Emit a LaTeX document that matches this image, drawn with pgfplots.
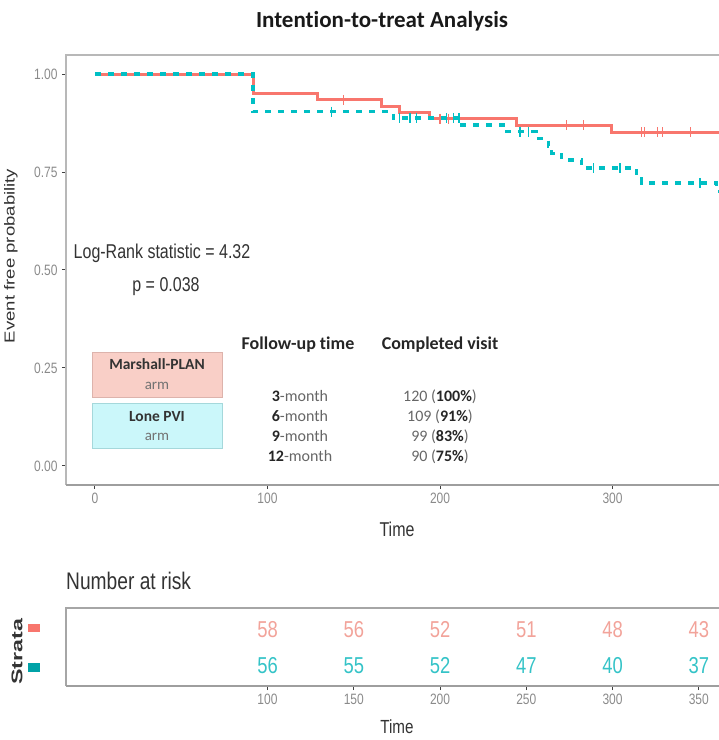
\documentclass[border=0pt]{standalone}
\usepackage{pgfplots}
\pgfplotsset{compat=1.18}
\usepackage{fontspec}
\setmainfont{Liberation Sans}
\newfontfamily\narrowfont[FakeStretch=0.8]{Liberation Sans}
\newfontfamily\widefont[FakeStretch=1.28]{Liberation Sans}
\newfontfamily\stratafont[FakeStretch=1.5]{Liberation Sans}
\newfontfamily\calibri[Ligatures=NoCommon]{Carlito}
\newcommand\fs[1]{\fontsize{#1}{#1}\selectfont}
\definecolor{kmred}{HTML}{F8766D}
\definecolor{kmcyan}{HTML}{00BFC4}
\definecolor{riskred}{HTML}{F2A39A}
\definecolor{riskcyan}{HTML}{34C3C7}
\definecolor{boxred}{HTML}{F9CFC7}
\definecolor{boxredline}{HTML}{DDB3AC}
\definecolor{boxcyan}{HTML}{CBF7FA}
\definecolor{boxcyanline}{HTML}{A5D8DB}
\definecolor{txt}{HTML}{333333}
\definecolor{tick}{HTML}{8A8A8A}
\begin{document}
\begin{tikzpicture}[x=1pt,y=1pt]
\useasboundingbox (0,0) rectangle (719,740);
% ---------------- survival panel ----------------
\begin{axis}[
  at={(66pt,255pt)}, anchor=south west, scale only axis,
  width=653pt, height=430pt,
  xmin=-16.8, xmax=361.7, ymin=-0.0485, ymax=1.0485,
  axis line style={draw=none},
  xtick={0,100,200,300}, xticklabels={0,100,200,300},
  ytick={0,0.25,0.5,0.75,1}, yticklabels={0.00,0.25,0.50,0.75,1.00},
  tick align=outside, xtick pos=left, ytick pos=left,
  major tick length=4pt,
  tick style={line width=1pt, color=black!75},
  ticklabel style={font=\narrowfont\fs{15}, text=tick},
  yticklabel style={xshift=-1pt},
  after end axis/.code={
    \draw[black!28, line width=1.5pt] (rel axis cs:0,0) -- (rel axis cs:0,1) -- (rel axis cs:1,1);
    \draw[black!38, line width=2pt] (rel axis cs:0,0) -- (rel axis cs:1,0);
  },
]
\addplot[const plot, color=kmred, line width=3pt] coordinates {
 (0,1) (91.6,0.950) (129,0.934) (166,0.918) (176.4,0.902) (193.8,0.886)
 (244.4,0.869) (299.5,0.852) (370,0.852)};
\addplot[only marks, mark=|, mark size=5pt, color=kmred, mark options={line width=1.2pt}] coordinates {
 (144,0.934) (200,0.886) (205,0.886) (273.4,0.869) (283,0.869) (317,0.852) (318.5,0.852)
 (326,0.852) (329,0.852) (345,0.852)};
\addplot[const plot, color=kmcyan, line width=3.3pt, dash pattern=on 6pt off 7pt] coordinates {
 (0,1) (91.6,0.904) (173,0.888) (212.5,0.870) (238.6,0.853) (256,0.835)
 (262.8,0.816) (264.7,0.798) (270.5,0.781) (282,0.760) (314,0.741) (316.9,0.722)
 (360.4,0.700) (370,0.700)};
\addplot[only marks, mark=|, mark size=5pt, color=kmcyan, mark options={line width=1.2pt}] coordinates {
 (137.2,0.904) (176.4,0.888) (182.6,0.888) (186.5,0.888) (203.9,0.888) (207.7,0.888)
 (211,0.888) (246.4,0.853) (251.2,0.853) (288.9,0.760) (304.3,0.760) (350.7,0.722)};
\end{axis}
% ---------------- number at risk panel ----------------
\begin{axis}[
  at={(66pt,54pt)}, anchor=south west, scale only axis,
  width=653pt, height=78pt,
  xmin=-16.8, xmax=361.7, ymin=0, ymax=1,
  axis line style={draw=none},
  ytick=\empty,
  xtick={100,150,200,250,300,350}, xticklabels={100,150,200,250,300,350},
  tick align=outside, xtick pos=left,
  major tick length=4pt,
  tick style={line width=1pt, color=black!75},
  ticklabel style={font=\narrowfont\fs{15}, text=tick},
  after end axis/.code={
    \draw[black!35, line width=1.5pt] (rel axis cs:0,0) -- (rel axis cs:0,1) -- (rel axis cs:1,1);
    \draw[black!38, line width=2pt] (rel axis cs:0,0) -- (rel axis cs:1,0);
  },
]
\addplot[only marks, mark=none, nodes near coords, point meta=explicit symbolic,
  nodes near coords style={anchor=center, inner sep=0pt, font=\narrowfont\fs{23}, text=riskred}]
  table[meta=n] {
x y n
100 0.718 58
150 0.718 56
200 0.718 52
250 0.718 51
300 0.718 48
350 0.718 43
};
\addplot[only marks, mark=none, nodes near coords, point meta=explicit symbolic,
  nodes near coords style={anchor=center, inner sep=0pt, font=\narrowfont\fs{23}, text=riskcyan}]
  table[meta=n] {
x y n
100 0.256 56
150 0.256 55
200 0.256 52
250 0.256 47
300 0.256 40
350 0.256 37
};
\end{axis}
% ---------------- texts ----------------
\node[anchor=base, font=\calibri\bfseries\fs{23}, text=black!90] at (382,712) {Intention-to-treat Analysis};
\node[rotate=90, font=\widefont\fs{14.5}, text=txt] at (11,484) {Event free probability};
\node[anchor=base, font=\narrowfont\fs{20}, text=txt] at (397,203) {Time};
\node[anchor=base, font=\narrowfont\fs{20}, text=txt] at (162,481) {Log-Rank statistic = 4.32};
\node[anchor=base, font=\narrowfont\fs{20}, text=txt] at (166,448) {p = 0.038};
% legend boxes
\draw[boxredline, fill=boxred, line width=0.8pt] (92,343) rectangle (222,388);
\draw[boxcyanline, fill=boxcyan, line width=0.8pt] (92,292) rectangle (222,337);
\node[anchor=base, font=\calibri\bfseries\fs{15.5}, text=black!80] at (157,370) {Marshall-PLAN};
\node[anchor=base, font=\calibri\fs{15}, text=black!55] at (157,350) {arm};
\node[anchor=base, font=\calibri\bfseries\fs{15.5}, text=black!80] at (157,318) {Lone PVI};
\node[anchor=base, font=\calibri\fs{15}, text=black!55] at (157,299) {arm};
% follow-up table
\node[anchor=base, font=\calibri\bfseries\fs{18}, text=black!85] at (298,390) {Follow-up time};
\node[anchor=base, font=\calibri\bfseries\fs{18}, text=black!85] at (440,390) {Completed visit};
\begin{scope}[every node/.style={anchor=base, font=\calibri\fs{16}, text=black!60}]
\node at (300,338) {\textbf{\color{black!85}3}-month};
\node at (300,318) {\textbf{\color{black!85}6}-month};
\node at (300,298) {\textbf{\color{black!85}9}-month};
\node at (300,278) {\textbf{\color{black!85}12}-month};
\node at (440,338) {120 (\textbf{\color{black!85}100\%})};
\node at (440,318) {109 (\textbf{\color{black!85}91\%})};
\node at (440,298) {99 (\textbf{\color{black!85}83\%})};
\node at (440,278) {90 (\textbf{\color{black!85}75\%})};
\end{scope}
% risk table labels
\node[anchor=base west, inner sep=0pt, font=\narrowfont\fs{24}, text=txt] at (66,150) {Number at risk};
\node[rotate=90, font=\stratafont\bfseries\fs{15.5}, text=txt] at (17,88) {Strata};
\fill[kmred] (28,108) rectangle (40,116);
\fill[kmcyan!85!black] (28,68) rectangle (40,77);
\node[anchor=base, font=\narrowfont\fs{19}, text=txt] at (397,6) {Time};
\end{tikzpicture}
\end{document}
